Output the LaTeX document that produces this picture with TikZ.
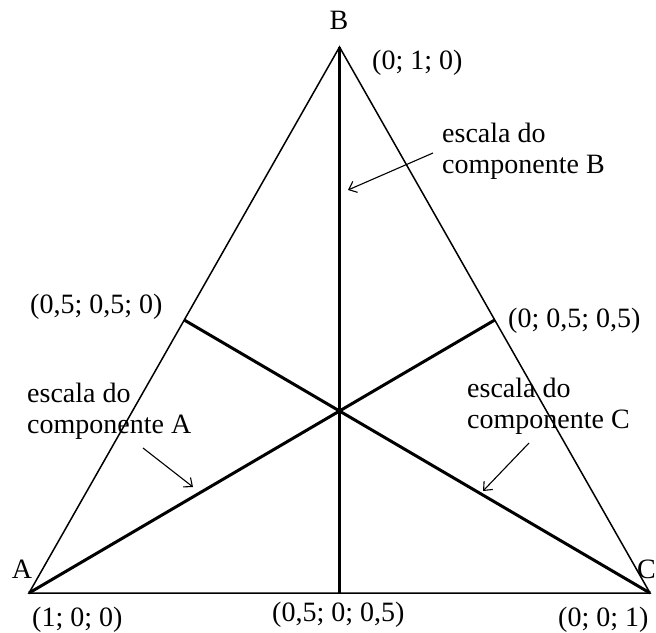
\documentclass[tikz,border=0pt]{standalone}
\usepackage{fontspec}
\setmainfont{Liberation Serif}
\usetikzlibrary{arrows.meta}
\begin{document}
\begin{tikzpicture}[x=1bp,y=-1bp,
  side/.style={line width=1.5bp},
  median/.style={line width=3bp},
  pointer/.style={line width=1.1bp,-{Straight Barb[length=7bp,width=12bp,line width=1.1bp]}},
  lbl/.style={inner sep=0pt,font=\fontsize{28bp}{31bp}\selectfont},
]
\useasboundingbox (0,0) rectangle (656,633);
\coordinate (A) at (29,593);
\coordinate (B) at (339.5,47);
\coordinate (C) at (650,593);
\coordinate (mAB) at (184.25,320);
\coordinate (mBC) at (494.75,320);
\coordinate (mAC) at (339.5,593);
\draw[side] (A) -- (B) -- (C) -- cycle;
\draw[median] (B) -- (mAC);
\draw[median] (mAB) -- (C);
\draw[median] (mBC) -- (A);
% vertex labels
\node[lbl,anchor=base] (lB) at (339,30) {B};
\node[lbl,anchor=base] (lA) at (22,578) {A};
\node[lbl,anchor=base west] (lC) at (637,578) {C};
% coordinates
\node[lbl,anchor=base west] (cB) at (372,70) {(0; 1; 0)};
\node[lbl,anchor=base west] (cAB) at (30,313) {(0,5; 0,5; 0)};
\node[lbl,anchor=base west] (cBC) at (508,327) {(0; 0,5; 0,5)};
\node[lbl,anchor=base west] (cA) at (32,626) {(1; 0; 0)};
\node[lbl,anchor=base west] (cC) at (558,626) {(0; 0; 1)};
\node[lbl,anchor=base west] (cAC) at (272,621) {(0,5; 0; 0,5)};
% scale labels (base anchor = last line)
\node[lbl,anchor=base west,align=left] (sA) at (27,433) {escala do\\componente A};
\node[lbl,anchor=base west,align=left] (sC) at (467,428) {escala do\\componente C};
\node[lbl,anchor=base west,align=left] (sB) at (442,174) {escala do\\componente B};
% pointers
\coordinate (tA) at (143,448);
\coordinate (hA) at (193,487);
\coordinate (tC) at (529,443);
\coordinate (hC) at (483,491);
\coordinate (tB) at (433,153);
\coordinate (hB) at (348,190);
\draw[pointer] (tA) -- (hA);
\draw[pointer] (tC) -- (hC);
\draw[pointer] (tB) -- (hB);
\end{tikzpicture}
\end{document}
